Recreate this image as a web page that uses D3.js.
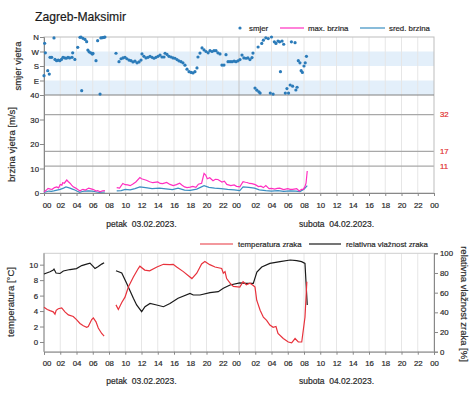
<!DOCTYPE html>
<html><head><meta charset="utf-8">
<script src="https://cdn.jsdelivr.net/npm/d3@7"></script>
<style>
body{margin:0;background:#fff;}
svg{display:block;font-family:"Liberation Sans",Arial,Helvetica,sans-serif;}
svg text{stroke:currentColor;stroke-width:0.2px;}
</style></head><body>
<svg id="c" width="474" height="393"></svg>
<script>
// ---------- DATA ----------
const title = "Zagreb-Maksimir";
const hourTicks = d3.range(0, 49, 2);               // hours since 03.02.2023 00:00
const dayLabels = ["petak  03.02.2023.", "subota  04.02.2023."];
const dayCenters = [12, 36];
const dirTickVals = [360, 270, 180, 90];
const dirTickLabels = ["N", "W", "S", "E"];
const spdTicks = [0, 10, 20, 30, 40];
const spdLimits = [32, 17, 11];
const tempTicks = [0, 2, 4, 6, 8, 10];
const humTicks = [0, 20, 40, 60, 80, 100];

// wind direction (deg)
const dirT = [0.00,0.08,0.17,0.46,0.65,0.74,0.95,1.23,1.35,1.55,1.75,1.95,2.15,2.34,2.55,2.75,2.95,3.15,3.45,3.53,3.8,4.15,4.43,4.55,4.64,4.8,5.05,5.25,5.4,5.55,5.75,5.95,6.03,6.4,6.6,6.9,7.0,7.2,7.4,7.5,
  8.86,9.23,9.48,9.72,9.97,10.2,10.46,10.7,10.95,11.2,11.45,11.7,11.94,12.06,12.3,12.55,12.8,13.05,13.3,13.54,13.78,14.03,14.28,14.52,14.77,14.9,15.14,15.38,15.63,15.88,16.12,16.37,16.6,16.86,17.1,17.35,17.6,17.85,18.1,18.34,18.58,18.83,18.95,19.2,19.45,19.7,19.94,20.2,20.43,20.68,20.92,21.17,21.4,21.66,21.9,22.15,22.4,22.65,22.9,23.14,23.4,23.63,23.88,24.12,24.37,24.6,24.86,25.1,25.35,25.6,25.72,
  25.97,26.2,26.35,26.45,26.6,26.8,27.0,27.3,27.6,27.85,28.0,28.2,28.35,28.55,28.8,29.0,29.1,29.3,29.5,29.7,29.9,30.1,30.3,30.45,30.6,30.9,31.0,31.15,31.3,31.5,31.65,31.8,32.0,32.15,32.3];
const dirV = [120,321,262,151,130,234,234,354,221,213,217,213,221,234,230,228,234,230,234,262,221,296,358,360,27,352,345,331,279,268,262,254,258,213,337,6,354,356,358,360,
  259,207,225,230,234,225,217,213,205,210,200,205,217,255,240,230,234,240,234,228,234,240,248,236,236,259,252,240,236,230,228,220,212,207,200,185,160,145,140,137,145,168,236,260,292,280,270,262,275,270,275,275,262,255,186,186,250,207,207,207,210,207,212,220,248,230,228,230,220,232,260,
  43,30,298,20,12,320,340,355,350,12,360,6,330,320,335,330,145,335,315,12,40,12,62,330,55,325,31,48,213,200,151,140,180,200,240,337];

// wind speed (m/s)
const maxT = [0,0.3,0.5,0.8,1.0,1.3,1.57,1.8,2.0,2.2,2.3,2.5,2.8,3.0,3.2,3.4,3.6,3.9,4.2,4.43,4.6,4.8,5.1,5.5,5.8,6.0,6.2,6.4,6.6,6.9,7.2,7.5,8.2,
  8.95,9.3,9.7,10.0,10.3,10.6,10.9,11.3,11.8,12.0,12.2,12.6,13.0,13.4,14.0,14.3,14.6,15.1,15.5,15.9,16.3,16.7,17.0,17.3,17.6,18.0,18.3,18.7,19.0,19.4,19.7,19.9,20.1,20.4,20.8,21.1,21.4,21.9,22.2,22.5,23.0,23.4,23.7,24.1,24.5,24.8,25.0,25.3,25.6,26.0,26.4,26.7,27.0,27.3,27.7,28.0,28.4,28.7,29.0,29.5,30.0,30.3,30.6,31.1,31.4,31.7,31.9,32.1,32.25,32.4];
const maxV = [0.4,1.2,1.9,1.6,1.5,2.2,2.5,2.1,3.5,3.2,4.2,4.0,5.3,4.6,4.0,3.2,2.5,2.0,1.3,0.8,1.2,1.5,1.2,2.0,1.7,1.5,1.2,0.8,1.0,0.5,0.9,1.0,null,
  2.2,2.0,3.9,3.4,3.3,3.0,3.6,4.5,6.3,5.8,5.6,5.2,4.6,4.2,4.5,3.9,3.8,4.3,3.5,3.0,3.4,4.0,3.2,2.5,2.2,2.4,2.7,2.3,3.6,4.0,8.0,7.3,5.8,6.2,5.0,5.6,5.5,4.5,4.8,3.5,3.0,3.3,2.7,2.5,4.6,4.4,4.3,3.9,3.8,3.4,2.6,2.8,2.2,3.0,1.8,1.9,1.6,1.9,2.0,1.4,1.8,1.5,1.5,1.8,0.8,1.5,1.5,2.5,4.0,9.0];
const avgT = [0,0.3,0.6,0.9,1.2,1.6,2.0,2.4,2.7,3.0,3.2,3.5,3.8,4.1,4.4,4.7,5.0,5.5,5.9,6.2,6.5,6.8,7.1,7.5,8.2,
  8.95,9.5,10.0,10.6,11.2,11.8,12.5,13.3,14.2,15.0,15.8,16.5,17.3,18.0,18.8,19.7,20.3,21.0,21.8,22.6,23.4,24.1,24.5,25.2,25.9,26.5,27.3,28.0,28.8,29.5,30.3,31.0,31.5,32.0,32.4];
const avgV = [0.2,0.5,0.8,0.7,0.9,1.2,1.5,2.0,2.5,2.2,2.0,1.6,1.2,0.7,0.3,0.6,0.8,0.9,0.8,0.6,0.4,0.2,0.3,0.4,null,
  0.9,1.0,1.5,1.3,1.8,2.5,2.2,1.8,2.0,1.7,1.4,2.0,1.2,1.1,1.6,3.0,2.3,2.0,1.8,1.5,1.3,1.0,2.5,2.3,2.0,1.3,1.0,0.8,1.0,0.7,0.9,0.8,0.6,1.5,3.0];

// air temperature (°C)
const tempT = [0.0,0.4,0.74,1.14,1.35,1.5,1.76,2.18,2.58,3.0,3.6,4.0,4.43,4.84,5.25,5.45,5.87,6.07,6.4,6.68,7.1,7.4,8.2,
  8.86,9.15,9.57,9.97,10.38,11.0,11.6,11.8,12.4,13.0,13.9,14.7,15.5,15.9,16.33,17.15,18.2,18.8,19.4,19.8,20.4,21.05,21.87,22.07,22.28,22.48,22.9,23.3,24.1,24.5,24.9,25.35,25.76,25.97,26.18,26.6,27.0,27.4,27.8,28.2,28.55,28.8,29.45,30.07,30.48,30.9,31.3,31.72,32.12,32.35];
const tempV = [4.5,4.2,4.05,3.9,3.6,4.1,4.3,4.4,3.9,3.5,3.3,2.9,2.4,2.1,1.9,2.0,2.9,3.1,2.6,1.8,1.1,0.75,null,
  4.8,4.2,5.1,5.8,7.1,8.4,9.5,9.8,9.3,9.2,9.7,10.05,10.0,10.05,9.7,9.1,8.2,8.9,10.1,10.4,10.0,9.7,9.5,8.9,9.1,8.2,7.6,7.2,7.1,7.8,7.4,7.6,7.3,7.1,5.4,4.1,3.2,2.8,2.2,1.9,2.0,1.1,0.45,0.0,-0.1,0.45,0.0,0.0,3.2,7.8];

// relative humidity (%)
const humT = [0,0.74,1.14,1.23,1.48,1.97,2.38,3.2,4.0,4.64,5.25,5.66,6.07,6.28,6.68,7.1,7.4,8.2,
  8.86,9.57,10.17,11.0,11.4,12.02,12.43,13.05,13.87,14.7,15.5,16.5,17.97,18.37,19.2,20.43,21.45,22.07,22.9,24.1,24.9,25.76,26.2,26.8,27.8,29.05,30.3,31.1,31.7,32.12,32.4];
const humV = [79,81.3,83,84,80,79.5,82,83.5,84.5,87.5,89,90,86.5,84.5,86.5,89,90.5,null,
  82.3,80,69.5,54.3,47.5,40.7,45.7,49,47.5,45.7,49,54.3,59.3,57.6,57.6,60,61,64.4,67.8,70,69.5,69.5,81,86,89.8,91.5,93.2,92.5,91.5,89.8,47.5];

const legendTop = ["smjer", "max. brzina", "sred. brzina"];
const legendBottom = ["temperatura zraka", "relativna vlažnost zraka"];

// ---------- DRAW ----------
const svg = d3.select("#c");
const C = {dir:"#2b7bb9", max:"#ff2fc0", avg:"#3b8fc2", temp:"#e8323c", hum:"#1a1a1a", text:"#2a2a2a", grid:"#e6e6e6", band:"#e3effa", lim:"#e23030"};

// font size fitting helper: size that gives a text the wanted width
function fitSize(str, width) {
  const t = svg.append("text").attr("font-size", 100).text(str);
  const w = t.node().getComputedTextLength();
  t.remove();
  return 100 * width / w;
}
const FS = fitSize("sred. brzina", 41);            // small text
const FD = fitSize("petak 03.02.2023.", 68);        // date text
const FTITLE = fitSize(title, 91);
const FT = fitSize("brzina vjetra [m/s]", 75);

const x = d3.scaleLinear().domain([0, 48]).range([44, 434]);
const yDir = d3.scaleLinear().domain([0, 360]).range([95, 37]);
const ySpd = d3.scaleLinear().domain([0, 40]).range([193, 95]);
const yTemp = d3.scaleLinear().domain([-1.255, 11.47]).range([351.7, 253.3]);
const yHum = d3.scaleLinear().domain([0, 100]).range([351.7, 253.3]);
const zip = (t, v) => t.map((d, i) => ({t: d, v: v[i]}));

svg.append("text").attr("x", 35).attr("y", 20.5).attr("font-size", FTITLE).attr("fill", "#1a1a1a").style("color", "#1a1a1a").text(title);

// direction bands
svg.selectAll(".band").data([[180, 270], [0, 90]]).join("rect")
  .attr("x", x(0)).attr("width", x(48) - x(0))
  .attr("y", d => yDir(d[1])).attr("height", d => yDir(d[0]) - yDir(d[1]))
  .attr("fill", C.band);

// vertical grid
function vgrid(y0, y1) {
  svg.append("g").selectAll("line").data(hourTicks.slice(1, -1)).join("line")
    .attr("x1", d => x(d)).attr("x2", d => x(d)).attr("y1", y0).attr("y2", y1)
    .attr("stroke", d => d === 24 ? "#c4c4c4" : C.grid).attr("stroke-width", 1);
}
vgrid(37, 193);
vgrid(253.3, 351.7);

// speed limit lines
svg.append("g").selectAll("line").data(spdLimits).join("line")
  .attr("x1", x(0)).attr("x2", x(48)).attr("y1", d => ySpd(d)).attr("y2", d => ySpd(d))
  .attr("stroke", "#a8a8a8").attr("stroke-width", 1.2);
svg.append("g").style("color", C.lim).selectAll("text").data(spdLimits).join("text")
  .attr("x", 440).attr("y", d => ySpd(d) + FS * 0.36).attr("font-size", FS).attr("fill", C.lim).text(d => d);

// frames
svg.append("rect").attr("x", x(0)).attr("y", 37).attr("width", x(48) - x(0)).attr("height", 156)
  .attr("fill", "none").attr("stroke", "#bdbdbd");
svg.append("line").attr("x1", x(0)).attr("x2", x(48)).attr("y1", 95).attr("y2", 95).attr("stroke", "#808080");
svg.append("rect").attr("x", x(0)).attr("y", 253.3).attr("width", x(48) - x(0)).attr("height", 98.4)
  .attr("fill", "none").attr("stroke", "#cfcfcf");

function styleAxis(g) {
  g.style("color", C.text);
  g.selectAll("path.domain").attr("stroke", "#888");
  g.selectAll(".tick line").attr("stroke", "#888");
  g.selectAll("text").attr("fill", C.text).attr("font-size", FS).attr("font-family", null);
}
// x axes
function xAxis(yPos) {
  const g = svg.append("g").attr("transform", `translate(0,${yPos})`)
    .call(d3.axisBottom(x).tickValues(hourTicks).tickSize(3).tickPadding(6).tickFormat(d => d3.format("02")(d % 24)));
  styleAxis(g);
  g.selectAll(".tick text").attr("dx", d => d === 0 ? 2.5 : d === 24 ? -3 : 0);
  return g;
}
xAxis(193);
xAxis(351.7);
function dayText(yPos) {
  svg.append("g").style("color", C.text).selectAll("text").data(dayLabels).join("text")
    .attr("x", (d, i) => x(dayCenters[i])).attr("y", yPos).attr("text-anchor", "middle")
    .attr("font-size", FD).attr("fill", C.text).style("white-space", "pre").text(d => d);
}
dayText(227);
dayText(383.5);

// y axes top
const gDir = svg.append("g").attr("transform", `translate(${x(0)},0)`)
  .call(d3.axisLeft(yDir).tickValues(dirTickVals).tickSize(4).tickPadding(1).tickFormat((d, i) => dirTickLabels[i]));
styleAxis(gDir);
const gSpd = svg.append("g").attr("transform", `translate(${x(0)},0)`)
  .call(d3.axisLeft(ySpd).tickValues(spdTicks).tickSize(4).tickPadding(1));
styleAxis(gSpd);

// y axes bottom
const gT = svg.append("g").attr("transform", `translate(${x(0)},0)`)
  .call(d3.axisLeft(yTemp).tickValues(tempTicks).tickSize(4).tickPadding(2));
styleAxis(gT);
gT.select("path.domain").attr("d", `M-0,${yTemp.range()[0]}V${yTemp.range()[1]}`);
const gH = svg.append("g").attr("transform", `translate(${x(48)},0)`)
  .call(d3.axisRight(yHum).tickValues(humTicks).tickSize(4).tickPadding(2));
styleAxis(gH);

// axis titles
function vtitle(tx, ty, rot, txt) {
  svg.append("text").attr("transform", `translate(${tx},${ty}) rotate(${rot})`)
    .attr("text-anchor", "middle").attr("font-size", FT).attr("fill", C.text).style("color", C.text).text(txt);
}
vtitle(20.5, 66, -90, "smjer vjetra");
vtitle(15, 144.5, -90, "brzina vjetra [m/s]");
vtitle(14, 302, -90, "temperatura [°C]");
vtitle(460.5, 304, 90, "relativna vlažnost zraka [%]");

// series
const lineSpd = d3.line().defined(d => d.v != null).x(d => x(d.t)).y(d => ySpd(d.v));
svg.append("path").datum(zip(avgT, avgV)).attr("d", lineSpd).attr("fill", "none").attr("stroke", C.avg).attr("stroke-width", 1.2);
svg.append("path").datum(zip(maxT, maxV)).attr("d", lineSpd).attr("fill", "none").attr("stroke", C.max).attr("stroke-width", 1.2);

svg.append("g").selectAll("circle").data(zip(dirT, dirV)).join("circle")
  .attr("cx", d => x(d.t)).attr("cy", d => yDir(d.v)).attr("r", 1.6).attr("fill", C.dir);

const lineT = d3.line().defined(d => d.v != null).x(d => x(d.t)).y(d => yTemp(d.v));
const lineH = d3.line().defined(d => d.v != null).x(d => x(d.t)).y(d => yHum(d.v));
svg.append("path").datum(zip(humT, humV)).attr("d", lineH).attr("fill", "none").attr("stroke", C.hum).attr("stroke-width", 1.2);
svg.append("path").datum(zip(tempT, tempV)).attr("d", lineT).attr("fill", "none").attr("stroke", C.temp).attr("stroke-width", 1.2);

// legends
const lt = svg.append("g").attr("font-size", FS).attr("fill", C.text).style("color", C.text);
lt.append("circle").attr("cx", 240).attr("cy", 28).attr("r", 1.6).attr("fill", C.dir);
lt.append("text").attr("x", 249).attr("y", 28 + FS * 0.36).text(legendTop[0]);
lt.append("line").attr("x1", 280).attr("x2", 304).attr("y1", 28).attr("y2", 28).attr("stroke", C.max).attr("stroke-width", 1.2);
lt.append("text").attr("x", 308).attr("y", 28 + FS * 0.36).text(legendTop[1]);
lt.append("line").attr("x1", 360).attr("x2", 385).attr("y1", 28).attr("y2", 28).attr("stroke", C.avg).attr("stroke-width", 1.2);
lt.append("text").attr("x", 389).attr("y", 28 + FS * 0.36).text(legendTop[2]);

const lb = svg.append("g").attr("font-size", FS).attr("fill", C.text).style("color", C.text);
lb.append("line").attr("x1", 200).attr("x2", 233).attr("y1", 244).attr("y2", 244).attr("stroke", C.temp).attr("stroke-width", 1.2);
lb.append("text").attr("x", 238).attr("y", 244 + FS * 0.36).text(legendBottom[0]);
lb.append("line").attr("x1", 309).attr("x2", 341).attr("y1", 244).attr("y2", 244).attr("stroke", C.hum).attr("stroke-width", 1.2);
lb.append("text").attr("x", 346).attr("y", 244 + FS * 0.36).text(legendBottom[1]);
</script>
</body></html>
